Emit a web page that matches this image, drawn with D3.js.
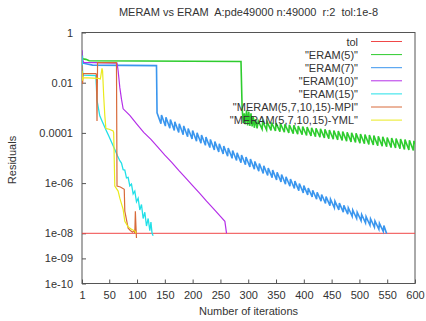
<!DOCTYPE html>
<html><head><meta charset="utf-8">
<script src="https://cdn.jsdelivr.net/npm/d3@7"></script>
<style>html,body{margin:0;padding:0;background:#fff;} svg{display:block;font-family:"Liberation Sans",Arial,sans-serif;}</style>
</head><body><svg id="c" width="426" height="321"></svg>
<script>
// ---------- data ----------
const chartTitle = "MERAM vs ERAM  A:pde49000 n:49000  r:2  tol:1e-8";
const xLabel = "Number of iterations";
const yLabel = "Residuals";
const xTicks = [1,50,100,150,200,250,300,350,400,450,500,550,600];
const yTicks = [1,1e-2,1e-4,1e-6,1e-8,1e-9,1e-10];
const yTickLabels = ["1","0.01","0.0001","1e-06","1e-08","1e-09","1e-10"];
const seriesNames = ['tol','"ERAM(5)"','"ERAM(7)"','"ERAM(10)"','"ERAM(15)"','"MERAM(5,7,10,15)-MPI"','"MERAM(5,7,10,15)-YML"'];
const seriesColors = ["#f04848","#2ecc2e","#3a96ee","#b530e8","#22e0e8","#d86a3a","#eaea1e"];
const seriesWidths = [1, 1.6, 1.6, 1.2, 1.3, 1.2, 1.2];

const tol = [[1,1e-8],[600,1e-8]];

const eram5 = [[1,0.18],[2,0.09],[8,0.085],[14,0.075],[287,0.07],
 [289,1e-3],[291,2.5e-4],[293,6e-4],[295,2.2e-4],[297,8e-4],[299,2e-4],[301,7e-4],[303,1.9e-4],
 [305,6e-4],[307,1.8e-4],[309,4.5e-4],[311,1.6e-4],[313,3.5e-4],[316,1.5e-4],
 [318,3.0e-4],[325,1.41e-4],[326,2.87e-4],[333,1.33e-4],[334,2.72e-4],[341,1.26e-4],
 [342,2.58e-4],[349,1.19e-4],[350,2.45e-4],[357,1.12e-4],[358,2.33e-4],[365,1.06e-4],
 [366,2.21e-4],[373,1.0e-4],[374,2.10e-4],[381,9.4e-5],[382,1.99e-4],[389,8.9e-5],
 [390,1.89e-4],[397,8.4e-5],[398,1.79e-4],[405,7.9e-5],[406,1.70e-4],[413,7.5e-5],
 [414,1.61e-4],[421,7.1e-5],[422,1.53e-4],[429,6.7e-5],[430,1.45e-4],[437,6.3e-5],
 [438,1.38e-4],[445,5.9e-5],[446,1.31e-4],[453,5.6e-5],[454,1.24e-4],[461,5.3e-5],
 [462,1.18e-4],[469,5.0e-5],[470,1.12e-4],[477,4.7e-5],[478,1.06e-4],[485,4.4e-5],
 [486,1.01e-4],[493,4.2e-5],[494,9.6e-5],[501,3.9e-5],[502,9.1e-5],[509,3.7e-5],
 [510,8.6e-5],[517,3.5e-5],[518,8.2e-5],[525,3.3e-5],[526,7.8e-5],[533,3.1e-5],
 [534,7.4e-5],[541,2.95e-5],[542,7.0e-5],[549,2.8e-5],[550,6.6e-5],[557,2.6e-5],
 [558,6.3e-5],[565,2.5e-5],[566,6.0e-5],[573,2.35e-5],[574,5.7e-5],[581,2.2e-5],
 [582,5.4e-5],[589,2.1e-5],[590,5.1e-5],[597,2.0e-5],[598,4.8e-5],[600,3.5e-5]];

const eram7 = [[1,0.09],[3,0.06],[20,0.05],[135,0.048],
 [136,6.3e-4],[143,2.3e-4],[144,5.2e-4],[151,1.87e-4],[152,4.2e-4],[159,1.54e-4],
 [160,3.4e-4],[167,1.26e-4],[168,2.8e-4],[175,1.04e-4],[176,2.3e-4],[183,8.5e-5],
 [184,1.9e-4],[191,7.0e-5],[192,1.5e-4],[199,5.7e-5],[200,1.25e-4],[207,4.7e-5],
 [208,1.02e-4],[215,3.9e-5],[216,8.3e-5],[223,3.2e-5],[224,6.8e-5],[231,2.6e-5],
 [232,5.5e-5],[239,2.1e-5],[240,4.5e-5],[247,1.75e-5],[248,3.7e-5],[255,1.44e-5],
 [256,3.0e-5],[263,1.18e-5],[264,2.5e-5],[271,9.7e-6],[272,2.0e-5],[279,8.0e-6],
 [280,1.6e-5],[287,6.5e-6],[288,1.3e-5],[295,5.4e-6],[296,1.1e-5],[303,4.4e-6],
 [304,9.0e-6],[311,3.6e-6],[312,7.3e-6],[319,3.0e-6],[320,6.0e-6],[327,2.4e-6],
 [328,4.9e-6],[335,2.0e-6],[336,4.0e-6],[343,1.65e-6],[344,3.3e-6],[351,1.35e-6],
 [352,2.7e-6],[359,1.11e-6],[360,2.2e-6],[367,9.1e-7],[368,1.8e-6],[375,7.5e-7],
 [376,1.45e-6],[383,6.1e-7],[384,1.2e-6],[391,5.0e-7],[392,9.6e-7],[399,4.1e-7],
 [400,7.9e-7],[407,3.4e-7],[408,6.4e-7],[415,2.8e-7],[416,5.2e-7],[423,2.3e-7],
 [424,4.3e-7],[431,1.9e-7],[432,3.5e-7],[439,1.55e-7],[440,2.9e-7],[447,1.27e-7],
 [448,2.3e-7],[455,1.04e-7],[456,1.9e-7],[463,8.6e-8],[464,1.6e-7],[471,7.0e-8],
 [472,1.3e-7],[479,5.8e-8],[480,1.04e-7],[487,4.7e-8],[488,8.5e-8],[495,3.9e-8],
 [496,6.9e-8],[503,3.2e-8],[504,5.6e-8],[511,2.6e-8],[512,4.6e-8],[519,2.1e-8],
 [520,3.8e-8],[527,1.76e-8],[528,3.1e-8],[535,1.44e-8],[536,2.5e-8],[543,1.18e-8],
 [544,2.05e-8],[549,9.7e-9]];

const eram10 = [[1,0.2],[2,0.08],[4,0.065],[64,0.06],[66,0.03],[69,6.5e-3],[72,2.2e-3],
 [75,9.1e-4],[87,5.0e-4],[100,2.2e-4],[112,1.05e-4],[125,5.5e-5],[137,2.75e-5],
 [150,1.3e-5],[162,6.8e-6],[175,3.2e-6],[187,1.65e-6],[200,7.9e-7],[212,4.1e-7],
 [225,1.9e-7],[237,9.8e-8],[250,4.7e-8],[258,3.0e-8],[261,1e-8]];

const eram15 = [[1,0.12],[2,0.03],[3,0.02],[26,0.019],[28,2e-3],[33,4.8e-4],[37,3.0e-4],
 [41,1.9e-4],[45,1.2e-4],[49,7.7e-5],[53,4.9e-5],[57,3.1e-5],[61,1.95e-5],[65,1.2e-5],
 [69,7.8e-6],[72,6.3e-6],[75,3.4e-6],[78,3.3e-6],[81,1.6e-6],[84,1.7e-6],[87,7.8e-7],
 [90,9.1e-7],[93,3.7e-7],[96,4.8e-7],[99,1.8e-7],[102,2.5e-7],[105,8.5e-8],[108,1.4e-7],
 [111,3.9e-8],[114,6.9e-8],[117,1.95e-8],[120,3.9e-8],[123,1.26e-8],[125,2.8e-8],
 [127,1e-8],[129,8e-9]];

const meramMPI = [[1,0.05],[2,0.009],[3,0.023],[26,0.023],[27,0.02],[28,3e-4],[29,0.063],
 [62,0.063],[63,0.062],[64,7.6e-7],[70,7.0e-7],[77,5.7e-7],[78,7.6e-8],[84,1.6e-8],
 [88,1.3e-8],[92,1.1e-8],[95,1.3e-8],[96,1.0e-8],[97,7.6e-8],[98,2e-8],[99,6.5e-9]];

const meramYML = [[1,0.03],[2,0.012],[3,0.016],[30,0.015],[34,0.014],[37,0.037],[38,0.03],
 [40,3e-3],[42,5e-4],[44,1.5e-4],[50,1.4e-4],[57,1.2e-4],[58,1.0e-4],[60,7.6e-7],
 [66,4.8e-7],[69,2.5e-7],[75,9e-8],[78,3e-8],[84,1.8e-8],[90,1.45e-8],[97,1.2e-8],[98,1e-8]];

const allSeries = [tol, eram5, eram7, eram10, eram15, meramMPI, meramYML];

// ---------- layout ----------
const W = 426, H = 321;
const plot = {left: 82, right: 415, top: 32.5, bottom: 283.5};
const svg = d3.select("#c");
svg.append("rect").attr("width", W).attr("height", H).attr("fill", "#fff");

const x = d3.scaleLinear().domain([1, 600]).range([plot.left, plot.right]);
const y = d3.scaleLog().domain([1e-10, 1]).range([plot.bottom, plot.top]);

const textColor = "#333";

svg.append("defs").append("clipPath").attr("id", "clip")
  .append("rect").attr("x", plot.left).attr("y", plot.top)
  .attr("width", plot.right - plot.left).attr("height", plot.bottom - plot.top);

const gx = svg.append("g").attr("transform", `translate(0,${plot.bottom})`)
  .call(d3.axisBottom(x).tickValues(xTicks).tickSize(-4).tickPadding(8).tickFormat(d3.format("d")));
const gy = svg.append("g").attr("transform", `translate(${plot.left},0)`)
  .call(d3.axisLeft(y).tickValues(yTicks).tickSize(-4).tickPadding(9)
        .tickFormat((d, i) => yTickLabels[i]));
[gx, gy].forEach(g => {
  g.select(".domain").remove();
  g.selectAll(".tick line").attr("stroke", "#555");
  g.selectAll(".tick text").attr("fill", textColor)
    .style("font-family", '"Liberation Sans",Arial,sans-serif').style("font-size", "11px");
});

svg.append("rect").attr("x", plot.left).attr("y", plot.top)
  .attr("width", plot.right - plot.left).attr("height", plot.bottom - plot.top)
  .attr("fill", "none").attr("stroke", "#555").attr("stroke-width", 1);

const line = d3.line().x(d => x(d[0])).y(d => y(d[1]));
const gs = svg.append("g").attr("clip-path", "url(#clip)");
allSeries.forEach((s, i) => {
  gs.append("path").datum(s).attr("d", line)
    .attr("fill", "none").attr("stroke", seriesColors[i]).attr("stroke-width", seriesWidths[i]);
});

const lg = svg.append("g");
seriesNames.forEach((name, i) => {
  const cy = 41.5 + i * 13.1;
  lg.append("text").attr("x", 358).attr("y", cy + 4).attr("text-anchor", "end")
    .attr("fill", textColor).style("font-size", "11px").text(name);
  lg.append("line").attr("x1", 371).attr("x2", 402).attr("y1", cy).attr("y2", cy)
    .attr("stroke", seriesColors[i]).attr("stroke-width", 1);
});

svg.append("text").attr("x", (plot.left + plot.right) / 2).attr("y", 16)
  .attr("text-anchor", "middle").attr("fill", textColor).style("font-size", "11px")
  .style("white-space", "pre").text(chartTitle);
svg.append("text").attr("x", (plot.left + plot.right) / 2).attr("y", 315)
  .attr("text-anchor", "middle").attr("fill", textColor).style("font-size", "11px").text(xLabel);
svg.append("text").attr("transform", "translate(16,160) rotate(-90)")
  .attr("text-anchor", "middle").attr("fill", textColor).style("font-size", "11px").text(yLabel);
</script></body></html>
